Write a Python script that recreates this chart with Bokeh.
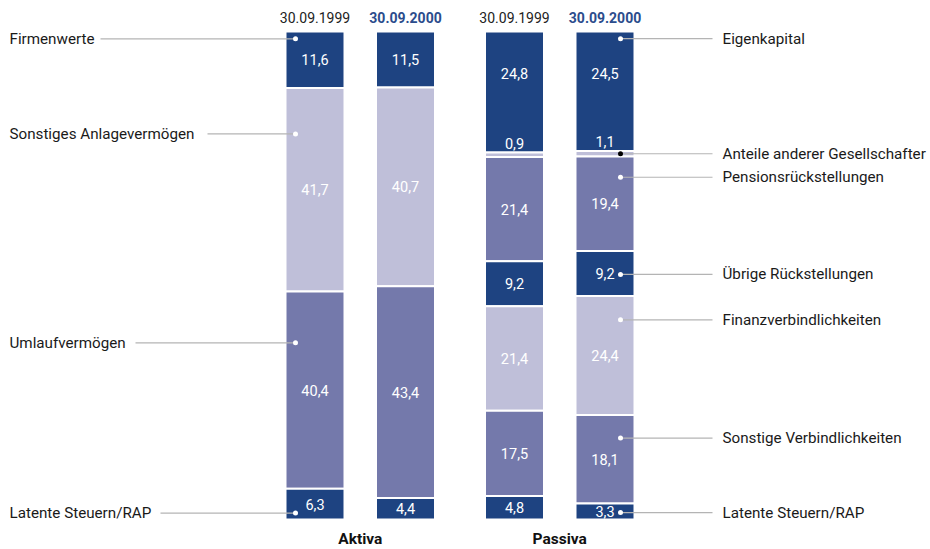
from bokeh.plotting import figure
from bokeh.models import Range1d, ColumnDataSource
from bokeh.embed import file_html
from bokeh.resources import INLINE
from bokeh.core.properties import value

# ---------------- data ----------------
dates = ["30.09.1999", "30.09.2000"]
group_titles = ["Aktiva", "Passiva"]
aktiva_labels = ["Firmenwerte", "Sonstiges Anlagevermögen", "Umlaufvermögen",
                 "Latente Steuern/RAP"]
aktiva_1999 = [11.6, 41.7, 40.4, 6.3]
aktiva_2000 = [11.5, 40.7, 43.4, 4.4]
passiva_labels = ["Eigenkapital", "Anteile anderer Gesellschafter",
                  "Pensionsrückstellungen", "Übrige Rückstellungen",
                  "Finanzverbindlichkeiten", "Sonstige Verbindlichkeiten",
                  "Latente Steuern/RAP"]
passiva_1999 = [24.8, 0.9, 21.4, 9.2, 21.4, 17.5, 4.8]
passiva_2000 = [24.5, 1.1, 19.4, 9.2, 24.4, 18.1, 3.3]

# ---------------- style / layout ----------------
DARK = "#1e4381"
LIGHT = "#bfbfd9"
MID = "#7479ab"
DATE_BLUE = "#2b4c8c"
LEADER = "#b4b4b4"
aktiva_colors = [DARK, LIGHT, MID, DARK]
passiva_colors = [DARK, LIGHT, MID, DARK, LIGHT, MID, DARK]

FONT = "Roboto"
W, H = 930, 549
TOP_PX, SCALE = 31.0, 4.88          # pixel of 0 %, pixels per %
bar_x = [314.5, 405.0, 514.0, 604.5]
bar_w = 59
# leader anchors: relative position of the dot inside each segment
aktiva_anchor = [0.13, 0.225, 0.26, 0.79]
passiva_anchor = [0.06, 0.5, 0.22, 0.52, 0.2, 0.26, 0.57]
left_dot_x, right_dot_x = 295, 620
left_text_x, right_text_x = 9, 722
left_line_start = [100, 207, 135, 160]
right_line_end = 712

p = figure(width=W, height=H, output_backend="svg", toolbar_location=None,
           x_axis_location=None, y_axis_location=None, min_border=0,
           x_range=Range1d(0, W),
           y_range=Range1d((H - TOP_PX) / SCALE, -TOP_PX / SCALE))
p.grid.visible = False
p.outline_line_color = None
p.background_fill_color = "white"
p.border_fill_color = "white"


def fmt(v):
    return f"{v:.1f}".replace(".", ",")


def stack(vals):
    tops, bots, acc = [], [], 0.0
    for v in vals:
        tops.append(acc)
        acc += v
        bots.append(acc)
    return tops, bots


series = [(aktiva_1999, aktiva_colors), (aktiva_2000, aktiva_colors),
          (passiva_1999, passiva_colors), (passiva_2000, passiva_colors)]

for bx, (vals, cols) in zip(bar_x, series):
    tops, bots = stack(vals)
    src = ColumnDataSource(dict(x=[bx] * len(vals), top=tops, bottom=bots, color=cols))
    p.vbar(x="x", width=bar_w, top="top", bottom="bottom", fill_color="color",
           line_color="white", line_width=2, source=src)
    lx, ly, lt = [], [], []
    for i, v in enumerate(vals):
        if v < 2:
            y = tops[i] - 1.9
        elif i + 1 < len(vals) and vals[i + 1] < 2:
            y = tops[i] + 0.35 * v
        else:
            y = tops[i] + v / 2
        lx.append(bx); ly.append(y); lt.append(fmt(v))
    p.text(x=lx, y=ly, text=lt, text_color="white", text_align="center",
           text_baseline="middle", text_font=value(FONT), text_font_size="14.5px")

# date headers
date_y = (17 - TOP_PX) / SCALE
for i, bx in enumerate(bar_x):
    bold = i % 2 == 1
    p.text(x=[bx], y=[date_y], text=[dates[i % 2]], text_align="center",
           text_baseline="middle", text_font=value(FONT), text_font_size="14px",
           text_color=DATE_BLUE if bold else "#222222",
           text_font_style="bold" if bold else "normal")

# group titles
title_y = (538 - TOP_PX) / SCALE
for i, t in enumerate(group_titles):
    cx = (bar_x[2 * i] + bar_x[2 * i + 1]) / 2
    p.text(x=[cx], y=[title_y], text=[t], text_align="center", text_baseline="middle",
           text_font=value(FONT), text_font_size="15.5px", text_font_style="bold",
           text_color="#111111")

# left leaders (Aktiva 1999)
tops, _ = stack(aktiva_1999)
for i, lab in enumerate(aktiva_labels):
    y = tops[i] + aktiva_anchor[i] * aktiva_1999[i]
    p.line(x=[left_line_start[i], left_dot_x], y=[y, y], line_color=LEADER, line_width=1.2)
    p.scatter(x=[left_dot_x], y=[y], size=5, fill_color="white", line_color=None)
    p.text(x=[left_text_x], y=[y], text=[lab], text_align="left", text_baseline="middle",
           text_font=value(FONT), text_font_size="15.2px", text_color="#1a1a1a")

# right leaders (Passiva 2000)
tops, _ = stack(passiva_2000)
for i, lab in enumerate(passiva_labels):
    y = tops[i] + passiva_anchor[i] * passiva_2000[i]
    p.line(x=[right_dot_x, right_line_end], y=[y, y], line_color=LEADER, line_width=1.2)
    dot_col = "black" if passiva_2000[i] < 2 else "white"
    p.scatter(x=[right_dot_x], y=[y], size=5, fill_color=dot_col, line_color=None)
    p.text(x=[right_text_x], y=[y], text=[lab], text_align="left", text_baseline="middle",
           text_font=value(FONT), text_font_size="15.2px", text_color="#1a1a1a")

open("out.html", "w").write(file_html(p, INLINE))
